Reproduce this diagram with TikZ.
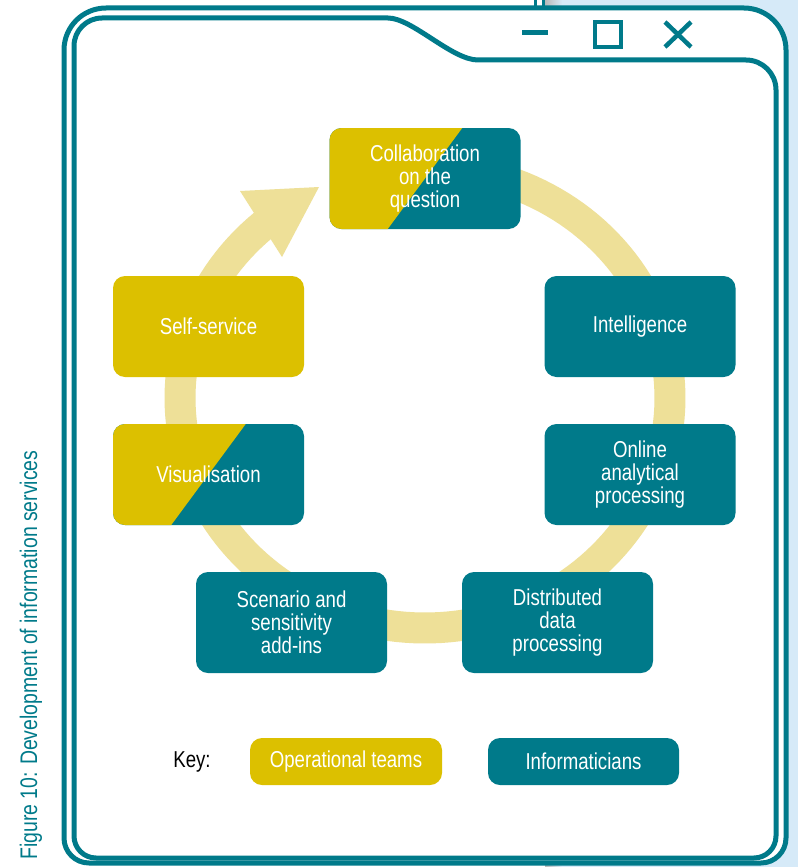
\documentclass[tikz,border=0pt]{standalone}
\usepackage{fontspec}
\setmainfont{Liberation Sans}[FakeStretch=0.81]
\usetikzlibrary{calc}
\definecolor{tealc}{RGB}{0,122,138}
\definecolor{ycol}{RGB}{220,192,0}
\definecolor{ringc}{RGB}{238,224,152}
\definecolor{bgblue}{RGB}{214,234,248}
\tikzset{
  winline/.style={draw=tealc, line width=5pt},
  btn/.style={draw=tealc, line width=4.5pt},
  stepbox/.style={rounded corners=12pt, minimum width=191pt, minimum height=101pt, inner sep=0pt,
    text=white, align=center, font=\fontsize{23}{23}\selectfont},
  teambox/.style={stepbox, fill=tealc},
  opbox/.style={stepbox, fill=ycol},
  mixbox/.style={stepbox, fill=tealc, path picture={
    \fill[ycol, sharp corners] (path picture bounding box.north west)
      -- ($(path picture bounding box.north west)!0.695!(path picture bounding box.north east)$)
      -- ($(path picture bounding box.south west)!0.305!(path picture bounding box.south east)$)
      -- (path picture bounding box.south west) -- cycle;}},
  keybox/.style={rounded corners=12pt, minimum width=191pt, minimum height=47pt, inner sep=0pt,
    text=white, font=\fontsize{23}{23}\selectfont},
  ring/.style={draw=ringc, line width=31pt}
}
\begin{document}
\begin{tikzpicture}[x=1pt,y=-1pt]
\useasboundingbox (0,0) rectangle (798,867);
% background window behind
\fill[bgblue] (560,0) rectangle (798,867);
\shade[left color=gray!55, right color=bgblue] (545,0) rectangle (562,867);
\fill[white] (537,0) rectangle (543,20);
\draw[tealc, line width=3pt] (535,0) -- (535,12);
\draw[tealc, line width=3pt] (543,0) -- (543,12);
% shadow of main window
\foreach \i in {1,...,12}{
  \fill[black, opacity=0.085] ($(0,0)+(\i*1.0,\i*0.8)$) (64,400) [rounded corners=42pt] -- ++(0,-392) -- ++(722,0) -- ++(0,692) [rounded corners=25pt] -- ++(0,163) -- ++(-722,0) -- cycle;
}
% main window
\fill[white] (64,400) [rounded corners=42pt] -- (64,8) -- (786,8) -- (786,700) [rounded corners=25pt] -- (786,863) -- (64,863) -- cycle;
\draw[winline] (64,400) [rounded corners=42pt] -- (64,8) -- (786,8) -- (786,700) [rounded corners=25pt] -- (786,863) -- (64,863) -- cycle;
\draw[winline] (74,400) [rounded corners=28pt] -- (74,18) -- (300,18) [sharp corners] -- (388,18) .. controls (412,18) and (452,60) .. (478,60) -- (600,60) [rounded corners=30pt] -- (776,60) -- (776,700) [rounded corners=22pt] -- (776,858) -- (74,858) -- cycle;
% window buttons
\coordinate (minA) at (522,33); \coordinate (minB) at (548,33);
\draw[tealc, line width=5pt] (minA) -- (minB);
\coordinate (sqA) at (595,22); \coordinate (sqB) at (621,47);
\draw[btn] (sqA) rectangle (sqB);
\coordinate (xA) at (665,22); \coordinate (xB) at (691,47);
\coordinate (xC) at (665,47); \coordinate (xD) at (691,22);
\draw[btn] (xA) -- (xB); \draw[btn] (xC) -- (xD);
% cycle ring and arrow
\draw[ring] plot[domain=95:-229, samples=160] ({425+245*cos(\x)},{398-230*sin(\x)});
\coordinate (tA) at (240,191); \coordinate (tB) at (319,187); \coordinate (tC) at (282,257);
\fill[ringc] (tA) -- (tB) -- (tC) -- cycle;
% steps
\node[mixbox]  (collab) at (425,178.5) {Collaboration\\on the\\question};
\node[teambox] (intel)  at (640,326.5) {Intelligence};
\node[teambox] (olap)   at (640,474.5) {Online\\analytical\\processing};
\node[teambox] (dist)   at (557.5,622.5) {Distributed\\data\\processing};
\node[teambox] (scen)   at (291.5,622.5) {Scenario and\\sensitivity\\add-ins};
\node[mixbox]  (visu)   at (208.5,474.5) {Visualisation};
\node[opbox]   (self)   at (208.5,326.5) {Self-service};
% key
\node[font=\fontsize{23}{23}\selectfont, text=black] (key) at (192,762) {Key:};
\node[keybox, fill=ycol, minimum width=192pt] (keyop) at (346,761.5) {Operational teams};
\node[keybox, fill=tealc] (keyinf) at (583.5,761.5) {Informaticians};
% caption
\node[rotate=90, text=tealc, font=\fontsize{24}{24}\selectfont] (cap) at (31,655) {Figure 10: Development of information services};
\end{tikzpicture}
\end{document}
